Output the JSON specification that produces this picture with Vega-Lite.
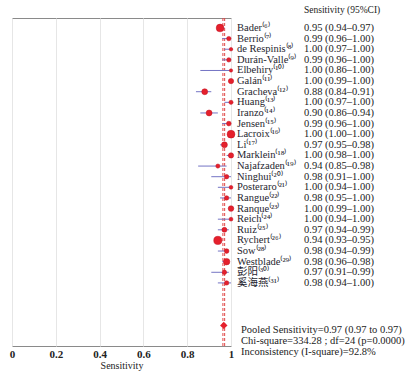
{
  "$schema": "https://vega.github.io/schema/vega-lite/v6.json",
  "background": "white",
  "padding": {"left": 8, "top": 4, "right": 5, "bottom": 2},
  "bounds": "flush",
  "spacing": 6,
  "config": {"font": "Liberation Serif, Noto Sans CJK SC", "view": {"stroke": null}},
  "datasets": {
    "studies": [
      {"label": "Bader⁽⁶⁾", "est": 0.95, "lo": 0.94, "hi": 0.97, "w": 76, "ci": "0.95 (0.94–0.97)"},
      {"label": "Berrio⁽⁷⁾", "est": 0.99, "lo": 0.96, "hi": 1.0, "w": 25, "ci": "0.99 (0.96–1.00)"},
      {"label": "de Respinis⁽⁸⁾", "est": 1.0, "lo": 0.97, "hi": 1.0, "w": 16, "ci": "1.00 (0.97–1.00)"},
      {"label": "Durán-Valle⁽⁹⁾", "est": 0.99, "lo": 0.96, "hi": 1.0, "w": 25, "ci": "0.99 (0.96–1.00)"},
      {"label": "Elbehiry⁽¹⁰⁾", "est": 1.0, "lo": 0.86, "hi": 1.0, "w": 14, "ci": "1.00 (0.86–1.00)"},
      {"label": "Galán⁽¹¹⁾", "est": 1.0, "lo": 0.99, "hi": 1.0, "w": 36, "ci": "1.00 (0.99–1.00)"},
      {"label": "Gracheva⁽¹²⁾", "est": 0.88, "lo": 0.84, "hi": 0.91, "w": 45, "ci": "0.88 (0.84–0.91)"},
      {"label": "Huang⁽¹³⁾", "est": 1.0, "lo": 0.97, "hi": 1.0, "w": 22, "ci": "1.00 (0.97–1.00)"},
      {"label": "Iranzo⁽¹⁴⁾", "est": 0.9, "lo": 0.86, "hi": 0.94, "w": 45, "ci": "0.90 (0.86–0.94)"},
      {"label": "Jensen⁽¹⁵⁾", "est": 0.99, "lo": 0.96, "hi": 1.0, "w": 28, "ci": "0.99 (0.96–1.00)"},
      {"label": "Lacroix⁽¹⁶⁾", "est": 1.0, "lo": 1.0, "hi": 1.0, "w": 78, "ci": "1.00 (1.00–1.00)"},
      {"label": "Li⁽¹⁷⁾", "est": 0.97, "lo": 0.95, "hi": 0.98, "w": 45, "ci": "0.97 (0.95–0.98)"},
      {"label": "Marklein⁽¹⁸⁾", "est": 1.0, "lo": 0.98, "hi": 1.0, "w": 36, "ci": "1.00 (0.98–1.00)"},
      {"label": "Najafzaden⁽¹⁹⁾", "est": 0.94, "lo": 0.85, "hi": 0.98, "w": 22, "ci": "0.94 (0.85–0.98)"},
      {"label": "Ninghui⁽²⁰⁾", "est": 0.98, "lo": 0.91, "hi": 1.0, "w": 25, "ci": "0.98 (0.91–1.00)"},
      {"label": "Posteraro⁽²¹⁾", "est": 1.0, "lo": 0.94, "hi": 1.0, "w": 19, "ci": "1.00 (0.94–1.00)"},
      {"label": "Rangue⁽²²⁾", "est": 0.98, "lo": 0.95, "hi": 1.0, "w": 25, "ci": "0.98 (0.95–1.00)"},
      {"label": "Ranque⁽²³⁾", "est": 1.0, "lo": 0.99, "hi": 1.0, "w": 40, "ci": "1.00 (0.99–1.00)"},
      {"label": "Reich⁽²⁴⁾", "est": 1.0, "lo": 0.94, "hi": 1.0, "w": 19, "ci": "1.00 (0.94–1.00)"},
      {"label": "Ruiz⁽²⁵⁾", "est": 0.97, "lo": 0.94, "hi": 0.99, "w": 32, "ci": "0.97 (0.94–0.99)"},
      {"label": "Rychert⁽²⁶⁾", "est": 0.94, "lo": 0.93, "hi": 0.95, "w": 86, "ci": "0.94 (0.93–0.95)"},
      {"label": "Sow⁽²⁸⁾", "est": 0.98, "lo": 0.94, "hi": 0.99, "w": 28, "ci": "0.98 (0.94–0.99)"},
      {"label": "Westblade⁽²⁹⁾", "est": 0.98, "lo": 0.96, "hi": 0.98, "w": 53, "ci": "0.98 (0.96–0.98)"},
      {"label": "彭阳⁽³⁰⁾", "est": 0.97, "lo": 0.91, "hi": 0.99, "w": 25, "ci": "0.97 (0.91–0.99)"},
      {"label": "奚海燕⁽³¹⁾", "est": 0.98, "lo": 0.94, "hi": 1.0, "w": 25, "ci": "0.98 (0.94–1.00)"}
    ],
    "pooled": [
      {"label": "Pooled", "est": 0.967, "lo": 0.963, "hi": 0.971,
       "summary": "Pooled Sensitivity=0.97 (0.97 to 0.97)\nChi-square=334.28 ; df=24 (p=0.0000)\nInconsistency (I-square)=92.8%"}
    ]
  },
  "hconcat": [
    {
      "width": 219,
      "height": 328,
      "view": {"stroke": "#8a8a8a", "strokeWidth": 1},
      "layer": [
        {
          "data": {"name": "pooled"},
          "mark": {"type": "rule", "color": "#e04848", "strokeDash": [3, 2], "strokeWidth": 1},
          "encoding": {
            "x": {"field": "lo", "type": "quantitative", "scale": {"domain": [0, 1], "nice": false, "zero": false},
              "axis": {
                "values": [0, 0.1, 0.2, 0.3, 0.4, 0.5, 0.6, 0.7, 0.8, 0.9, 1],
                "labelExpr": "round(datum.value*10)%2==0 ? toString(round(datum.value*10)/10) : ''",
                "grid": true, "gridColor": "#e6e6e6", "domain": false, "ticks": false,
                "labelFont": "Liberation Serif", "labelFontSize": 11, "labelFontWeight": "bold",
                "labelColor": "#222", "labelPadding": 2, "labelFlush": false, "labelOverlap": false, "labelBound": false,
                "title": "Sensitivity", "titleFont": "Liberation Serif", "titleFontSize": 10,
                "titleFontWeight": "normal", "titleColor": "#222", "titlePadding": 1
              }
            }
          }
        },
        {
          "data": {"name": "pooled"},
          "mark": {"type": "rule", "color": "#e04848", "strokeDash": [3, 2], "strokeWidth": 1},
          "encoding": {"x": {"field": "hi", "type": "quantitative"}}
        },
        {
          "data": {"name": "studies"},
          "mark": {"type": "rule", "color": "#7474c4", "strokeWidth": 1},
          "encoding": {
            "y": {"field": "label", "type": "nominal", "axis": null,
              "scale": {"type": "point", "padding": 0.94,
                "domain": ["Bader⁽⁶⁾", "Berrio⁽⁷⁾", "de Respinis⁽⁸⁾", "Durán-Valle⁽⁹⁾", "Elbehiry⁽¹⁰⁾", "Galán⁽¹¹⁾", "Gracheva⁽¹²⁾", "Huang⁽¹³⁾", "Iranzo⁽¹⁴⁾", "Jensen⁽¹⁵⁾", "Lacroix⁽¹⁶⁾", "Li⁽¹⁷⁾", "Marklein⁽¹⁸⁾", "Najafzaden⁽¹⁹⁾", "Ninghui⁽²⁰⁾", "Posteraro⁽²¹⁾", "Rangue⁽²²⁾", "Ranque⁽²³⁾", "Reich⁽²⁴⁾", "Ruiz⁽²⁵⁾", "Rychert⁽²⁶⁾", "Sow⁽²⁸⁾", "Westblade⁽²⁹⁾", "彭阳⁽³⁰⁾", "奚海燕⁽³¹⁾", "gap1", "gap2", "gap3", "Pooled", "gap4"]}},
            "x": {"field": "lo", "type": "quantitative"},
            "x2": {"field": "hi"}
          }
        },
        {
          "data": {"name": "studies"},
          "mark": {"type": "point", "filled": true, "shape": "circle", "color": "#e5202c", "opacity": 1, "stroke": "#c01020", "strokeWidth": 0.5},
          "encoding": {
            "y": {"field": "label", "type": "nominal"},
            "x": {"field": "est", "type": "quantitative"},
            "size": {"field": "w", "type": "quantitative", "legend": null,
              "scale": {"type": "linear", "domain": [0, 100], "range": [0, 78.5], "zero": true}}
          }
        },
        {
          "data": {"name": "pooled"},
          "mark": {"type": "point", "filled": true, "shape": "diamond", "color": "#e5202c", "opacity": 1, "size": 55},
          "encoding": {
            "y": {"field": "label", "type": "nominal"},
            "x": {"field": "est", "type": "quantitative"}
          }
        }
      ],
      "resolve": {"scale": {"size": "independent"}}
    },
    {
      "width": 67,
      "height": 328,
      "title": {"text": "Sensitivity (95%CI)", "anchor": "start", "dx": 67, "font": "Liberation Serif", "fontSize": 9.5, "fontWeight": "normal", "color": "#222", "offset": 4},
      "layer": [
        {
          "data": {"name": "studies"},
          "mark": {"type": "text", "align": "left", "baseline": "middle", "fontSize": 10.5, "color": "#1e1e2e"},
          "encoding": {
            "y": {"field": "label", "type": "nominal", "axis": null,
              "scale": {"type": "point", "padding": 0.94,
                "domain": ["Bader⁽⁶⁾", "Berrio⁽⁷⁾", "de Respinis⁽⁸⁾", "Durán-Valle⁽⁹⁾", "Elbehiry⁽¹⁰⁾", "Galán⁽¹¹⁾", "Gracheva⁽¹²⁾", "Huang⁽¹³⁾", "Iranzo⁽¹⁴⁾", "Jensen⁽¹⁵⁾", "Lacroix⁽¹⁶⁾", "Li⁽¹⁷⁾", "Marklein⁽¹⁸⁾", "Najafzaden⁽¹⁹⁾", "Ninghui⁽²⁰⁾", "Posteraro⁽²¹⁾", "Rangue⁽²²⁾", "Ranque⁽²³⁾", "Reich⁽²⁴⁾", "Ruiz⁽²⁵⁾", "Rychert⁽²⁶⁾", "Sow⁽²⁸⁾", "Westblade⁽²⁹⁾", "彭阳⁽³⁰⁾", "奚海燕⁽³¹⁾", "gap1", "gap2", "gap3", "Pooled", "gap4"]}},
            "x": {"datum": "name", "type": "nominal", "axis": null,
              "scale": {"type": "point", "domain": ["name", "ci"], "padding": 0}},
            "text": {"field": "label", "type": "nominal"}
          }
        },
        {
          "data": {"name": "studies"},
          "mark": {"type": "text", "align": "left", "baseline": "middle", "fontSize": 10.5, "color": "#222"},
          "encoding": {
            "y": {"field": "label", "type": "nominal"},
            "x": {"datum": "ci", "type": "nominal"},
            "text": {"field": "ci", "type": "nominal"}
          }
        },
        {
          "data": {"name": "pooled"},
          "mark": {"type": "text", "align": "left", "baseline": "top", "fontSize": 10.5, "color": "#222", "lineBreak": "\n", "lineHeight": 11, "dx": 4, "dy": 0},
          "encoding": {
            "y": {"field": "label", "type": "nominal"},
            "x": {"datum": "name", "type": "nominal"},
            "text": {"field": "summary", "type": "nominal"}
          }
        }
      ]
    }
  ]
}
